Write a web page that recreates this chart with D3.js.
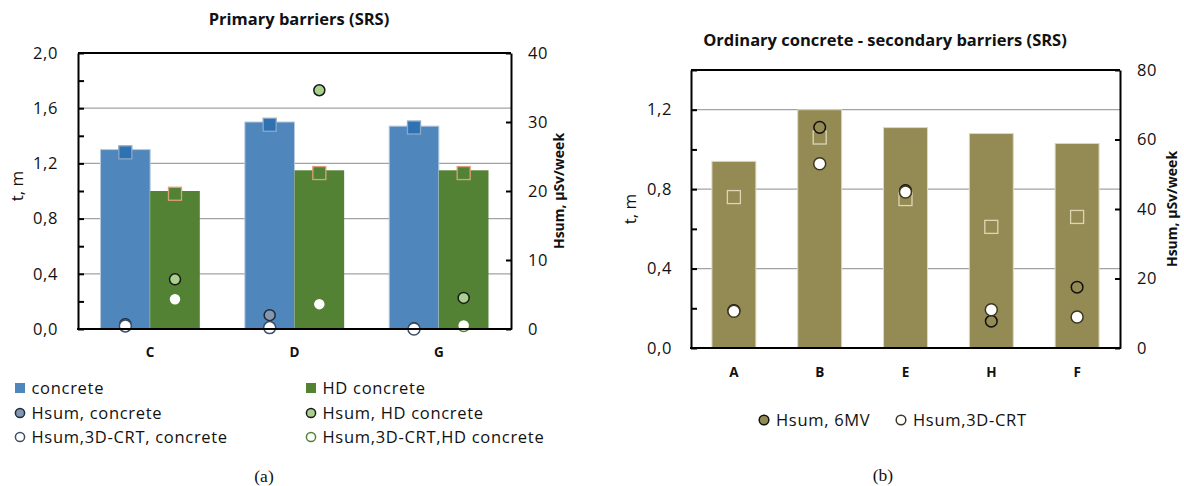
<!DOCTYPE html>
<html>
<head>
<meta charset="utf-8">
<script src="https://cdn.jsdelivr.net/npm/d3@7"></script>
<style>
  html, body { margin: 0; padding: 0; background: #fff; }
  svg { display: block; }
  text { font-family: "Open Sans", "DejaVu Sans", sans-serif; fill: #111; }
</style>
</head>
<body>
<svg id="fig" width="1184" height="486"></svg>
<script>
// ---- Primary barriers (SRS) ----
const primaryCategories = ["C", "D", "G"];
const concreteT = [1.30, 1.50, 1.47];          // bar: concrete thickness, m
const hdConcreteT = [1.00, 1.15, 1.15];        // bar: HD concrete thickness, m
const concreteTMark = [1.28, 1.48, 1.46];      // square markers on concrete bars
const hdConcreteTMark = [0.98, 1.13, 1.13];    // square markers on HD bars
const hsumConcrete = [0.7, 2.0, 0.1];          // µSv/week
const hsum3dcrtConcrete = [0.45, 0.2, 0.0];
const hsumHD = [7.2, 34.6, 4.5];
const hsum3dcrtHD = [4.3, 3.6, 0.5];
const primaryTTicks = [0, 0.2, 0.4, 0.6, 0.8, 1.0, 1.2, 1.4, 1.6, 1.8, 2.0];
const primaryHTicks = [0, 10, 20, 30, 40];

// ---- Ordinary concrete - secondary barriers (SRS) ----
const secondaryCategories = ["A", "B", "E", "H", "F"];
const secondaryT = [0.94, 1.20, 1.11, 1.08, 1.03];
const secondaryTMark = [0.76, 1.06, 0.75, 0.61, 0.66];
const hsum6MV = [10.8, 63.5, 45.3, 7.7, 17.5];
const hsum3dcrt = [10.6, 53.0, 44.9, 11.0, 8.9];
const secondaryTTicks = [0, 0.2, 0.4, 0.6, 0.8, 1.0, 1.2, 1.4];
const secondaryHTicks = [0, 20, 40, 60, 80];

const svg = d3.select("#fig");
svg.append("rect").attr("width", 1184).attr("height", 486).attr("fill", "#fff");

const commaFmt = d => d3.format(".1f")(d).replace(".", ",");

function grid(g, x0, x1, yL, gridVals) {
  // horizontal gridlines behind the bars
  g.append("g").selectAll("line").data(gridVals).join("line")
    .attr("x1", x0).attr("x2", x1)
    .attr("y1", d => yL(d)).attr("y2", d => yL(d))
    .attr("stroke", "#a3a3a3").attr("stroke-width", 1.3);
}

function axes(g, x0, x1, y0, y1, yL, yR, tTicks, labelVals, hTicks, padL, padR) {
  const isLabel = d => labelVals.some(v => Math.abs(v - d) < 1e-9);
  const left = d3.axisLeft(yL).tickValues(tTicks).tickSizeInner(-6).tickSizeOuter(0)
    .tickPadding(padL).tickFormat(d => isLabel(d) ? commaFmt(d) : "");
  const gl = g.append("g").attr("transform", `translate(${x0},0)`).call(left);
  const right = d3.axisRight(yR).tickValues(hTicks).tickSizeInner(-5).tickSizeOuter(0).tickPadding(padR);
  const gr = g.append("g").attr("transform", `translate(${x1},0)`).call(right);
  [gl, gr].forEach(a => {
    a.select(".domain").attr("stroke", "#000").attr("stroke-width", 2);
    a.selectAll(".tick line").attr("stroke", "#000").attr("stroke-width", 2);
    a.selectAll(".tick text").attr("font-size", 16.5).attr("letter-spacing", "0.6px")
      .style("font-family", '"Open Sans", sans-serif').attr("fill", "#111");
  });
  // top border and baseline
  g.append("line").attr("x1", x0).attr("x2", x1).attr("y1", y0).attr("y2", y0)
    .attr("stroke", "#000").attr("stroke-width", 2);
  g.append("line").attr("x1", x0 - 1).attr("x2", x1 + 1).attr("y1", y1).attr("y2", y1)
    .attr("stroke", "#000").attr("stroke-width", 2.2);
}

function circles(g, cx, vals, yR, fill, stroke, r) {
  g.append("g").selectAll("circle").data(vals).join("circle")
    .attr("cx", (d, i) => cx(i)).attr("cy", d => yR(d)).attr("r", r)
    .attr("fill", fill).attr("stroke", stroke).attr("stroke-width", 1.5);
}

function squares(g, cx, vals, yL, fill, stroke, s) {
  g.append("g").selectAll("rect").data(vals).join("rect")
    .attr("x", (d, i) => cx(i) - s / 2).attr("y", d => yL(d) - s / 2)
    .attr("width", s).attr("height", s)
    .attr("fill", fill).attr("stroke", stroke).attr("stroke-width", 1.3);
}

function rotatedLabel(g, x, y, text, size, weight) {
  g.append("text").attr("transform", `translate(${x},${y}) rotate(-90)`)
    .attr("text-anchor", "middle").attr("dy", "0.35em")
    .attr("font-size", size).attr("font-weight", weight).text(text);
}

function caption(g, x, y, text) {
  g.append("text").attr("x", x).attr("y", y).attr("dy", "0.35em").attr("text-anchor", "middle")
    .style("font-family", '"Liberation Serif", "Times New Roman", serif').attr("font-size", 17.5).text(text);
}

// ================= Chart (a) =================
{
  const X0 = 78, X1 = 511, Y0 = 53, Y1 = 329;
  const g = svg.append("g");
  const x = d3.scaleBand().domain(primaryCategories).range([X0, X1]).paddingInner(0.312).paddingOuter(0.156);
  const xs = d3.scaleBand().domain(["concrete", "hd"]).range([0, x.bandwidth()]);
  const yL = d3.scaleLinear().domain([0, 2.0]).range([Y1, Y0]);
  const yR = d3.scaleLinear().domain([0, 40]).range([Y1, Y0]);

  grid(g, X0, X1, yL, [0.4, 0.8, 1.2, 1.6]);

  const blueX = i => x(primaryCategories[i]) + xs("concrete");
  const greenX = i => x(primaryCategories[i]) + xs("hd");
  const blueC = i => blueX(i) + xs.bandwidth() / 2;
  const greenC = i => greenX(i) + xs.bandwidth() / 2;

  g.append("g").selectAll("rect").data(concreteT).join("rect")
    .attr("x", (d, i) => blueX(i)).attr("width", xs.bandwidth())
    .attr("y", d => yL(d)).attr("height", d => Y1 - yL(d))
    .attr("fill", "#4f87bd").attr("stroke", "#b7c9dd").attr("stroke-width", 1);
  g.append("g").selectAll("rect").data(hdConcreteT).join("rect")
    .attr("x", (d, i) => greenX(i)).attr("width", xs.bandwidth())
    .attr("y", d => yL(d)).attr("height", d => Y1 - yL(d))
    .attr("fill", "#538234");

  squares(g, blueC, concreteTMark, yL, "#2e72b4", "#8ea7c4", 13);
  squares(g, greenC, hdConcreteTMark, yL, "#538234", "#d9a27e", 13);

  circles(g, blueC, hsumConcrete, yR, "#8497b0", "#1f2a38", 5.5);
  circles(g, blueC, hsum3dcrtConcrete, yR, "#ffffff", "#3d4e66", 6);
  circles(g, greenC, hsumHD, yR, "#a9d18e", "#1a1a1a", 5.5);
  circles(g, greenC, hsum3dcrtHD, yR, "#ffffff", "#538234", 6);

  axes(g, X0, X1, Y0, Y1, yL, yR, primaryTTicks, [0, 0.4, 0.8, 1.2, 1.6, 2.0], primaryHTicks, 20, 17);

  g.append("g").selectAll("text").data(primaryCategories).join("text")
    .attr("x", d => x(d) + x.bandwidth() / 2).attr("y", 352).attr("dy", "0.35em")
    .attr("text-anchor", "middle").attr("font-size", 13.5).attr("font-weight", 700).text(d => d);

  g.append("text").attr("x", 299).attr("y", 25).attr("text-anchor", "middle")
    .attr("font-size", 16.5).attr("font-weight", 700).text("Primary barriers (SRS)");

  rotatedLabel(g, 17, 186, "t, m", 17, 400);
  rotatedLabel(g, 559, 191, "Hsum, µSv/week", 14, 700);

  // legend
  const leg = [
    { col: 0, row: 0, type: "sq", fill: "#4f87bd", stroke: "none", label: "concrete" },
    { col: 1, row: 0, type: "sq", fill: "#538234", stroke: "none", label: "HD concrete" },
    { col: 0, row: 1, type: "c", fill: "#8497b0", stroke: "#1f2a38", label: "Hsum, concrete" },
    { col: 1, row: 1, type: "c", fill: "#a9d18e", stroke: "#1a1a1a", label: "Hsum, HD concrete" },
    { col: 0, row: 2, type: "c", fill: "#ffffff", stroke: "#3d4e66", label: "Hsum,3D-CRT, concrete" },
    { col: 1, row: 2, type: "c", fill: "#ffffff", stroke: "#538234", label: "Hsum,3D-CRT,HD concrete" }
  ];
  const colX = [20, 311], rowY = [388, 413, 437];
  const lg = g.append("g");
  leg.forEach(d => {
    const cx = colX[d.col], cy = rowY[d.row];
    if (d.type === "sq") {
      lg.append("rect").attr("x", cx - 5).attr("y", cy - 5).attr("width", 10).attr("height", 10).attr("fill", d.fill);
    } else {
      lg.append("circle").attr("cx", cx).attr("cy", cy).attr("r", 4.6)
        .attr("fill", d.fill).attr("stroke", d.stroke).attr("stroke-width", 1.5);
    }
    lg.append("text").attr("x", cx + 11.5).attr("y", cy).attr("dy", "0.35em")
      .attr("font-size", 16.5).attr("letter-spacing", "0.7px").text(d.label);
  });

  caption(g, 264, 476, "(a)");
}

// ================= Chart (b) =================
{
  const X0 = 691, X1 = 1120, Y0 = 70, Y1 = 348;
  const g = svg.append("g");
  const x = d3.scaleBand().domain(secondaryCategories).range([X0, X1]).paddingInner(0.488).paddingOuter(0.244);
  const yL = d3.scaleLinear().domain([0, 1.4]).range([Y1, Y0]);
  const yR = d3.scaleLinear().domain([0, 80]).range([Y1, Y0]);
  const cx = i => x(secondaryCategories[i]) + x.bandwidth() / 2;

  grid(g, X0, X1, yL, [0.4, 0.8, 1.2]);

  g.append("g").selectAll("rect").data(secondaryT).join("rect")
    .attr("x", (d, i) => x(secondaryCategories[i])).attr("width", x.bandwidth())
    .attr("y", d => yL(d)).attr("height", d => Y1 - yL(d))
    .attr("fill", "#948a54").attr("stroke", "#ddd8c0").attr("stroke-width", 1);

  squares(g, cx, secondaryTMark, yL, "#948a54", "#ddd6b4", 13);
  circles(g, cx, hsum6MV, yR, "#948a54", "#111111", 5.8);
  circles(g, cx, hsum3dcrt, yR, "#ffffff", "#3b3722", 6);

  axes(g, X0, X1, Y0, Y1, yL, yR, secondaryTTicks, [0, 0.4, 0.8, 1.2], secondaryHTicks, 19, 17);

  g.append("g").selectAll("text").data(secondaryCategories).join("text")
    .attr("x", d => x(d) + x.bandwidth() / 2).attr("y", 372).attr("dy", "0.35em")
    .attr("text-anchor", "middle").attr("font-size", 13.5).attr("font-weight", 700).text(d => d);

  g.append("text").attr("x", 885).attr("y", 46).attr("text-anchor", "middle")
    .attr("font-size", 16.5).attr("font-weight", 700).text("Ordinary concrete - secondary barriers (SRS)");

  rotatedLabel(g, 630, 209, "t, m", 17, 400);
  rotatedLabel(g, 1172, 209, "Hsum, µSv/week", 14, 700);

  const leg = [
    { x: 764, fill: "#948a54", stroke: "#111111", label: "Hsum, 6MV" },
    { x: 901, fill: "#ffffff", stroke: "#3b3722", label: "Hsum,3D-CRT" }
  ];
  leg.forEach(d => {
    g.append("circle").attr("cx", d.x).attr("cy", 420).attr("r", 4.8)
      .attr("fill", d.fill).attr("stroke", d.stroke).attr("stroke-width", 1.5);
    g.append("text").attr("x", d.x + 12).attr("y", 420).attr("dy", "0.35em")
      .attr("font-size", 16.5).attr("letter-spacing", "0.7px").text(d.label);
  });

  caption(g, 883, 475, "(b)");
}
</script>
</body>
</html>
